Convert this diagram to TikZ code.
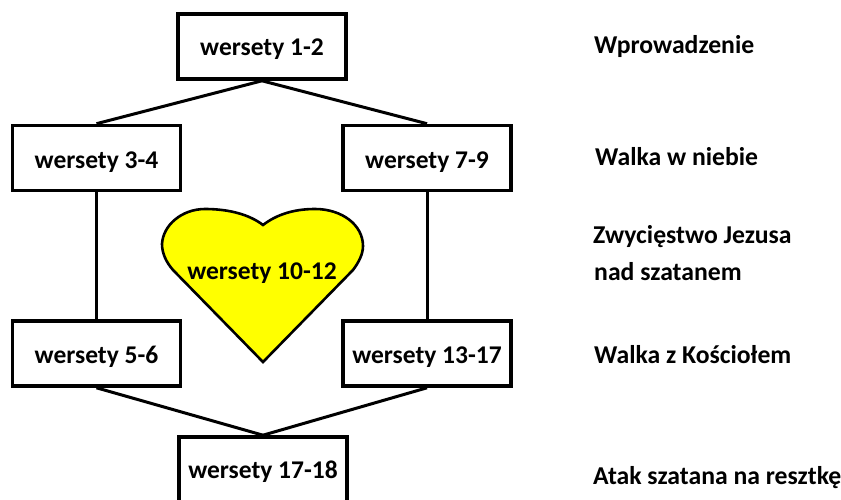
\documentclass[tikz,border=0pt]{standalone}
\usepackage{fontspec}
\setmainfont{Carlito}
\definecolor{heartyellow}{RGB}{255,255,0}
\tikzset{
 px/.style={x=1pt,y=-1pt},
 vbox/.style={draw=black,line width=3.6pt,fill=white,minimum width=168pt,minimum height=65pt,inner sep=0pt,text depth=0pt,font=\bfseries\fontsize{25.5}{29}\selectfont,text=black},
 lbl/.style={anchor=base west,inner sep=0pt,font=\bfseries\fontsize{25.7}{30}\selectfont,text=black},
 conn/.style={draw=black,line width=3pt}
}
\begin{document}
\begin{tikzpicture}[px]
\useasboundingbox (0,0) rectangle (841,500);
\fill[white] (0,0) rectangle (841,500);
\node[vbox,text height=19pt] (a) at (262,46.5) {wersety 1-2};
\node[vbox,text height=21pt] (b) at (96.5,158) {wersety 3-4};
\node[vbox,text height=21pt] (c) at (427,158) {wersety 7-9};
\node[vbox,text height=19pt] (d) at (96.5,353.5) {wersety 5-6};
\node[vbox,text height=19pt] (e) at (427,353.5) {wersety 13-17};
\node[vbox,text height=17pt] (f) at (263,469.5) {wersety 17-18};
\draw[conn] (a.south) -- (b.north);
\draw[conn] (a.south) -- (c.north);
\draw[conn] (b.south) -- (d.north);
\draw[conn] (c.south) -- (e.north);
\draw[conn] (d.south) -- (f.north);
\draw[conn] (e.south) -- (f.north);
\draw[draw=black,line width=2.6pt,fill=heartyellow,line join=miter] (263,362)
 -- (173,270)
 .. controls (166,262) and (162,253) .. (162,244)
 .. controls (163,225) and (182,209) .. (205,209)
 .. controls (230,209) and (250,215) .. (263,225)
 .. controls (276,215) and (293,209) .. (315,209)
 .. controls (342,209) and (363,225) .. (363,246)
 .. controls (363,254) and (359,262) .. (353,270)
 -- cycle;
\node[anchor=base,inner sep=0pt,font=\bfseries\fontsize{25.5}{29}\selectfont] (h) at (262,279) {wersety 10-12};
\node[lbl] (l1) at (594,54) {Wprowadzenie};
\node[lbl] (l2) at (595,165) {Walka w niebie};
\node[lbl] (l3) at (593,243) {Zwycięstwo Jezusa};
\node[lbl] (l4) at (594,280) {nad szatanem};
\node[lbl] (l5) at (594,363) {Walka z Kościołem};
\node[lbl] (l6) at (593,484) {Atak szatana na resztkę};
\end{tikzpicture}
\end{document}
